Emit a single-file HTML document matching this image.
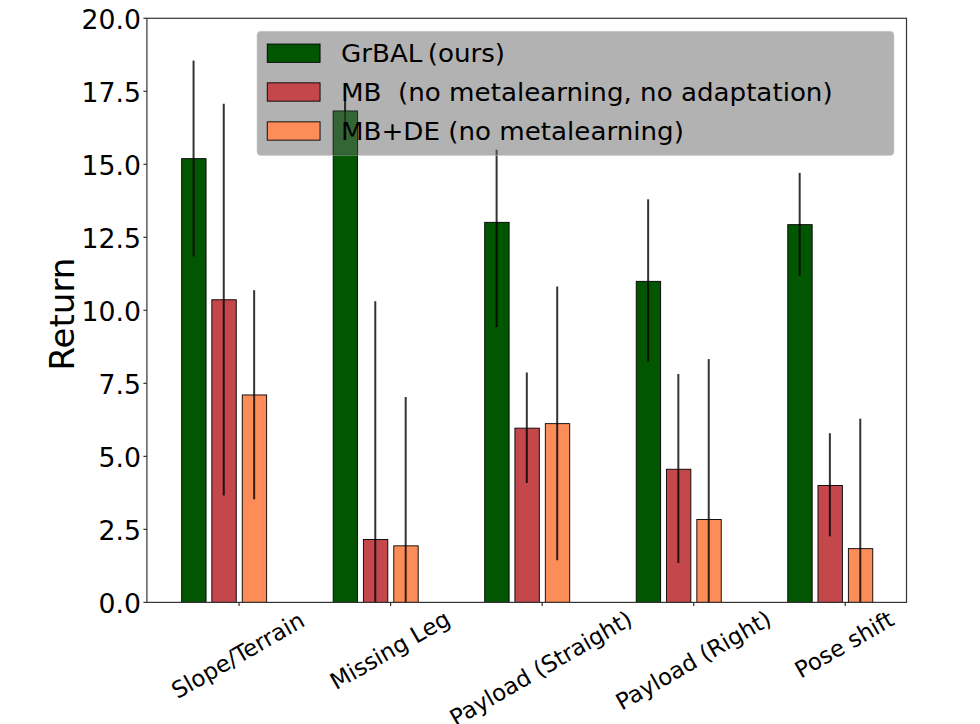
<!DOCTYPE html>
<html><head><meta charset="utf-8"><title>Return by condition</title><style>
html,body{margin:0;padding:0;background:#fff;overflow:hidden}
svg{display:block}
text{font-family:"DejaVu Sans","Liberation Sans",sans-serif;fill:#000}
</style></head><body>
<svg width="980" height="724" viewBox="0 0 980 724">
<rect x="0" y="0" width="980" height="724" fill="#fff"/>
<g stroke="#000" stroke-width="0.9">
<rect x="181.65" y="158.65" width="24.40" height="443.75" fill="#025602"/>
<rect x="211.85" y="299.75" width="24.40" height="302.65" fill="#c4474c"/>
<rect x="242.25" y="394.95" width="24.40" height="207.45" fill="#fc8d59"/>
<rect x="333.18" y="111.05" width="24.40" height="491.35" fill="#025602"/>
<rect x="363.38" y="539.45" width="24.40" height="62.95" fill="#c4474c"/>
<rect x="393.78" y="545.85" width="24.40" height="56.55" fill="#fc8d59"/>
<rect x="484.71" y="222.35" width="24.40" height="380.05" fill="#025602"/>
<rect x="514.91" y="428.15" width="24.40" height="174.25" fill="#c4474c"/>
<rect x="545.31" y="423.65" width="24.40" height="178.75" fill="#fc8d59"/>
<rect x="636.24" y="281.35" width="24.40" height="321.05" fill="#025602"/>
<rect x="666.44" y="469.25" width="24.40" height="133.15" fill="#c4474c"/>
<rect x="696.84" y="519.45" width="24.40" height="82.95" fill="#fc8d59"/>
<rect x="787.77" y="224.65" width="24.40" height="377.75" fill="#025602"/>
<rect x="817.97" y="485.45" width="24.40" height="116.95" fill="#c4474c"/>
<rect x="848.37" y="548.65" width="24.40" height="53.75" fill="#fc8d59"/>
</g>
<g stroke="#000" stroke-opacity="0.8" stroke-width="2.0">
<line x1="193.55" y1="60.60" x2="193.55" y2="256.40"/>
<line x1="223.75" y1="103.80" x2="223.75" y2="495.40"/>
<line x1="254.15" y1="290.20" x2="254.15" y2="499.30"/>
<line x1="345.08" y1="95.00" x2="345.08" y2="126.00"/>
<line x1="375.28" y1="301.30" x2="375.28" y2="602.40"/>
<line x1="405.68" y1="397.00" x2="405.68" y2="602.40"/>
<line x1="496.61" y1="149.70" x2="496.61" y2="327.10"/>
<line x1="526.81" y1="372.50" x2="526.81" y2="482.90"/>
<line x1="557.21" y1="286.40" x2="557.21" y2="560.30"/>
<line x1="648.14" y1="199.30" x2="648.14" y2="361.60"/>
<line x1="678.34" y1="374.00" x2="678.34" y2="563.10"/>
<line x1="708.74" y1="359.10" x2="708.74" y2="602.40"/>
<line x1="799.67" y1="172.90" x2="799.67" y2="275.80"/>
<line x1="829.87" y1="433.20" x2="829.87" y2="536.30"/>
<line x1="860.27" y1="418.70" x2="860.27" y2="602.40"/>
</g>
<rect x="146.9" y="18.3" width="759.60" height="584.10" fill="none" stroke="#333" stroke-width="1.2"/>
<line x1="143.4" y1="602.40" x2="146.9" y2="602.40" stroke="#333" stroke-width="1.2"/>
<text x="140.9" y="612.60" font-size="26.7" text-anchor="end">0.0</text>
<line x1="143.4" y1="529.39" x2="146.9" y2="529.39" stroke="#333" stroke-width="1.2"/>
<text x="140.9" y="539.59" font-size="26.7" text-anchor="end">2.5</text>
<line x1="143.4" y1="456.38" x2="146.9" y2="456.38" stroke="#333" stroke-width="1.2"/>
<text x="140.9" y="466.57" font-size="26.7" text-anchor="end">5.0</text>
<line x1="143.4" y1="383.36" x2="146.9" y2="383.36" stroke="#333" stroke-width="1.2"/>
<text x="140.9" y="393.56" font-size="26.7" text-anchor="end">7.5</text>
<line x1="143.4" y1="310.35" x2="146.9" y2="310.35" stroke="#333" stroke-width="1.2"/>
<text x="140.9" y="320.55" font-size="26.7" text-anchor="end">10.0</text>
<line x1="143.4" y1="237.34" x2="146.9" y2="237.34" stroke="#333" stroke-width="1.2"/>
<text x="140.9" y="247.54" font-size="26.7" text-anchor="end">12.5</text>
<line x1="143.4" y1="164.32" x2="146.9" y2="164.32" stroke="#333" stroke-width="1.2"/>
<text x="140.9" y="174.52" font-size="26.7" text-anchor="end">15.0</text>
<line x1="143.4" y1="91.31" x2="146.9" y2="91.31" stroke="#333" stroke-width="1.2"/>
<text x="140.9" y="101.51" font-size="26.7" text-anchor="end">17.5</text>
<line x1="143.4" y1="18.30" x2="146.9" y2="18.30" stroke="#333" stroke-width="1.2"/>
<text x="140.9" y="28.50" font-size="26.7" text-anchor="end">20.0</text>
<line x1="239.10" y1="602.4" x2="239.10" y2="605.9" stroke="#333" stroke-width="1.2"/>
<line x1="390.63" y1="602.4" x2="390.63" y2="605.9" stroke="#333" stroke-width="1.2"/>
<line x1="542.16" y1="602.4" x2="542.16" y2="605.9" stroke="#333" stroke-width="1.2"/>
<line x1="693.69" y1="602.4" x2="693.69" y2="605.9" stroke="#333" stroke-width="1.2"/>
<line x1="845.22" y1="602.4" x2="845.22" y2="605.9" stroke="#333" stroke-width="1.2"/>
<text transform="translate(241.85,662.15) rotate(-30)" font-size="22.9" text-anchor="middle">Slope/Terrain</text>
<text transform="translate(393.90,656.95) rotate(-30)" font-size="22.9" text-anchor="middle">Missing Leg</text>
<text transform="translate(544.80,675.20) rotate(-30)" font-size="22.9" text-anchor="middle">Payload (Straight)</text>
<text transform="translate(697.35,667.20) rotate(-30)" font-size="22.9" text-anchor="middle">Payload (Right)</text>
<text transform="translate(848.20,651.35) rotate(-30)" font-size="22.9" text-anchor="middle">Pose shift</text>
<text transform="translate(74.2,314.1) rotate(-90)" font-size="34.0" text-anchor="middle">Return</text>
<rect x="257" y="31.3" width="637" height="124.2" rx="4" ry="4" fill="#656565" fill-opacity="0.5" stroke="#cccccc" stroke-opacity="0.5" stroke-width="1"/>
<rect x="333.18" y="111.05" width="24.40" height="43.95" fill="#346534" stroke="#000" stroke-opacity="0.5" stroke-width="0.9"/>
<line x1="345.08" y1="95" x2="345.08" y2="126" stroke="#000" stroke-opacity="0.45" stroke-width="2"/>
<line x1="333.23" y1="155.2" x2="357.53" y2="155.2" stroke="#5a9a5a" stroke-opacity="0.6" stroke-width="1"/>
<rect x="267.25" y="44.05" width="52.8" height="18.3" fill="#025602" stroke="#000" stroke-width="0.9"/>
<text transform="translate(341.0,61.90) scale(1.021,1)" x="0" y="0" font-size="25.6" xml:space="preserve" style="white-space:pre"><tspan>GrBAL</tspan><tspan x="85.0">(ours)</tspan></text>
<rect x="267.25" y="82.85" width="52.8" height="18.3" fill="#c4474c" stroke="#000" stroke-width="0.9"/>
<text transform="translate(341.0,100.60) scale(1.021,1)" x="0" y="0" font-size="25.6" xml:space="preserve" style="white-space:pre">MB  (no metalearning, no adaptation)</text>
<rect x="267.25" y="121.85" width="52.8" height="18.3" fill="#fc8d59" stroke="#000" stroke-width="0.9"/>
<text transform="translate(341.0,139.90) scale(1.021,1)" x="0" y="0" font-size="25.6" xml:space="preserve" style="white-space:pre">MB+DE (no metalearning)</text>
</svg></body></html>
